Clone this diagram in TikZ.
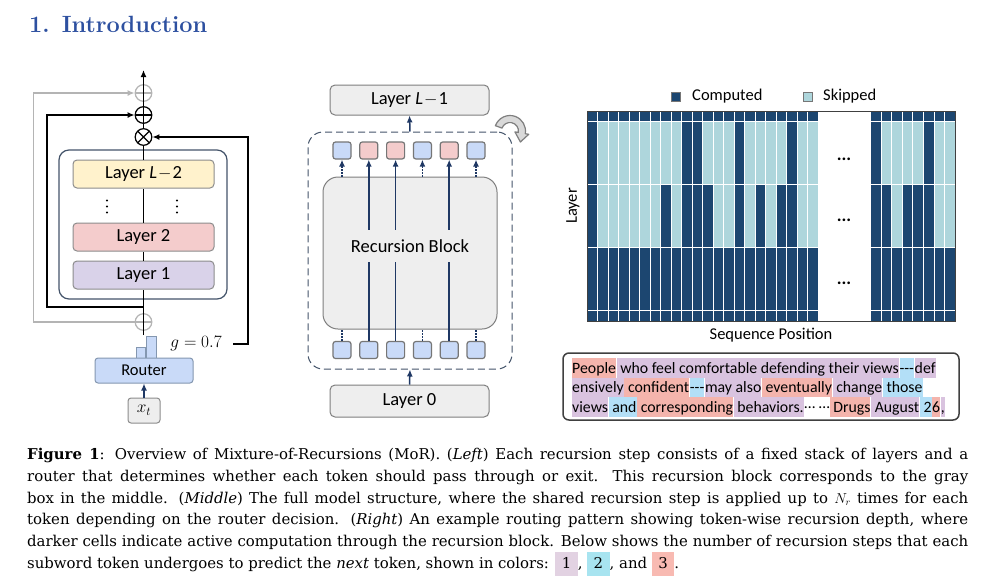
\documentclass[tikz,border=0pt]{standalone}
\usepackage{fontspec}
\newfontfamily\carlito{Carlito}
\newfontfamily\dvserif{DejaVu Serif}
\usetikzlibrary{arrows.meta}

\definecolor{outline}{HTML}{44546A}
\definecolor{boxgray}{HTML}{8C8C8C}
\definecolor{blockgray}{HTML}{EEEEEE}
\definecolor{yellowbox}{HTML}{FFF2CC}
\definecolor{pinkbox}{HTML}{F4CCCC}
\definecolor{purplebox}{HTML}{D9D2E9}
\definecolor{routerblue}{HTML}{C9DAF8}
\definecolor{routeredge}{HTML}{8497B0}
\definecolor{sqgray}{HTML}{767676}
\definecolor{navy}{HTML}{1F3864}
\definecolor{loopgray}{HTML}{B4B4B4}
\definecolor{computed}{HTML}{1C4670}
\definecolor{skipped}{HTML}{AED6DC}
\definecolor{headblue}{HTML}{2D50A0}
\definecolor{tokone}{HTML}{D9C3DF}
\definecolor{toktwo}{HTML}{B3DFF7}
\definecolor{tokthree}{HTML}{F4B4AC}
\definecolor{capone}{HTML}{E2D2E2}
\definecolor{captwo}{HTML}{A8E4F0}
\definecolor{capthree}{HTML}{F8BAB2}
\definecolor{arrowfill}{HTML}{D9D9D9}
\definecolor{arrowedge}{HTML}{7F7F7F}
\definecolor{textframe}{HTML}{404040}

\newcommand{\tok}[2]{{\setlength{\fboxsep}{0pt}\colorbox{#1}{\rule[-4.9pt]{0pt}{19.5pt}#2}}\hspace{0.7pt}}
\newcommand{\capbox}[2]{{\setlength{\fboxsep}{0pt}\colorbox{#1}{\rule[-7pt]{0pt}{24pt}\hspace{6.5pt}#2\hspace{6.5pt}}}}
\newcommand{\hy}{-\kern0pt-\kern0pt-}
\newcommand{\mdots}{\raisebox{3.5pt}{…}}

\begin{document}
\begin{tikzpicture}[x=1pt, y=-1pt, >={Latex[length=7pt,width=6pt]},
  every node/.style={font=\carlito\fontsize{18.5}{20}\selectfont},
  wire/.style={line width=1.5pt},
  layer/.style={draw=boxgray, line width=1pt, rounded corners=4pt, minimum width=141pt, minimum height=28pt, inner sep=0pt},
  grayblk/.style={draw=arrowedge, fill=blockgray, line width=1pt, rounded corners=5pt, minimum width=159pt, inner sep=0pt},
  sq/.style={draw=sqgray, line width=1.2pt, rounded corners=2.5pt, minimum width=18pt, minimum height=17pt, inner sep=0pt},
  oplus/.style={circle, draw=#1, line width=1.2pt, minimum size=16.6pt, inner sep=0pt,
    path picture={\draw[#1, line width=1.2pt] (path picture bounding box.north) -- (path picture bounding box.south)
      (path picture bounding box.west) -- (path picture bounding box.east);}},
  oplus/.default=black,
  otimes/.style={circle, draw, line width=1.2pt, minimum size=16.6pt, inner sep=0pt,
    path picture={\draw[line width=1.2pt] (path picture bounding box.north west) -- (path picture bounding box.south east)
      (path picture bounding box.north east) -- (path picture bounding box.south west);}},
  cell/.style={draw=white, line width=0.9pt},
  legsq/.style={draw=sqgray, line width=0.8pt, minimum size=9pt, inner sep=0pt},
  small/.style={font=\carlito\fontsize{16.5}{18}\selectfont},
  tokline/.style={anchor=base west, inner sep=0pt, font=\carlito\fontsize{15.8}{19.5}\selectfont},
  capline/.style={anchor=base west, inner sep=0pt, font=\dvserif\fontsize{14.9}{21.8}\selectfont}]

\path[use as bounding box, fill=white] (0,0) rectangle (992,587);

% heading
\node[anchor=base west, inner sep=0pt, text=headblue, font=\rmfamily\bfseries\fontsize{23.5}{28}\selectfont] (head) at (29,32.5) {1.\hspace{12pt}Introduction};

% left: one recursion step
\node[draw=outline, line width=1.2pt, rounded corners=10pt, minimum width=168pt, minimum height=149pt] (stack) at (143,224.5) {};
\node[layer, fill=yellowbox] (lL2) at (143.5,174) {Layer \textit{L}\kern1pt$-$\kern1pt2};
\node[layer, fill=pinkbox] (l2) at (143.5,237) {Layer 2};
\node[layer, fill=purplebox] (l1) at (143.5,275) {Layer 1};
\foreach \y in {200.5,206.5,212.5}
{
    \fill (107,\y) circle (1.2);
    \fill (177,\y) circle (1.2);
}
\node[oplus=loopgray] (gtop) at (143.5,93) {};
\node[oplus] (plus) at (143.5,115) {};
\node[otimes] (times) at (143.5,137) {};
\node[oplus=loopgray] (gbot) at (143.5,322) {};
\coordinate (split) at (143.5,307);
\coordinate (barstop) at (143.5,335);
\coordinate (out) at (143.5,70);
\draw[draw=routeredge, fill=routerblue, line width=1pt] (136,347) rectangle (145,358);
\draw[draw=routeredge, fill=routerblue, line width=1pt] (146,336) rectangle (156,358);
\node[draw=routeredge, fill=routerblue, line width=1pt, rounded corners=3pt, minimum width=98pt, minimum height=25pt, small] (router) at (144,370.5) {Router};
\node[draw=boxgray, fill=blockgray, line width=1pt, rounded corners=3pt, minimum width=32pt, minimum height=25pt, font=\fontsize{18}{20}\selectfont] (xt) at (144,410.5) {$x_t$};
\node[anchor=east, inner sep=0pt, font=\fontsize{17}{18}\selectfont] (gval) at (222,344) {$g = 0.7$};

\draw[wire, loopgray, ->] (gbot.west) -- ++(-101,0) |- (gtop.west);
\draw[wire] (barstop) -- (split) -- (l1.south);
\draw[wire] (l1.north) -- (l2.south);
\draw[wire] (l2.north) -- (lL2.south);
\draw[wire] (lL2.north) -- (times.south);
\draw[wire] (times.north) -- (plus.south);
\draw[wire, ->] (plus.north) -- (out);
\draw[wire, ->] (split) -- ++(-96.5,0) |- (plus.west);
\draw[wire, ->] ([xshift=11pt]gval.east) -- ++(15,0) |- (times.east);
\draw[wire, navy, ->] (xt.north) -- (router.south);

% middle: full model
\node[grayblk, minimum height=30pt] (lLm1) at (409.5,100) {Layer \textit{L}\kern1pt$-$\kern1pt1};
\node[grayblk, minimum height=32pt] (l0) at (409.5,401) {Layer 0};
\node[draw=outline, line width=1pt, dash pattern=on 7pt off 4pt, rounded corners=15pt, minimum width=204pt, minimum height=237pt] (loop) at (410,250.5) {};
\node[draw=arrowedge, fill=blockgray, line width=1pt, rounded corners=15pt, minimum width=174pt, minimum height=152pt] (rbox) at (410,253) {};
\node[minimum height=32pt, inner sep=0pt] (rbtext) at (410,246) {Recursion Block};
\foreach \col [count=\i] in {routerblue,pinkbox,pinkbox,routerblue,pinkbox,routerblue}
{
    \node[sq, fill=\col] (t\i) at (342+\i*26.8-26.8,150.5) {};
    \node[sq, fill=routerblue] (b\i) at (342+\i*26.8-26.8,350) {};
}
\foreach \i in {2,3,5}
{
    \draw[wire, navy] (b\i.north) -- (b\i.north |- rbtext.south);
    \draw[wire, navy, ->] (b\i.north |- rbtext.north) -- (t\i.south);
}
\foreach \i in {1,4,6}
{
    \draw[wire, navy, dash pattern=on 1.5pt off 1.5pt, ->] (t\i.south |- rbox.north) -- (t\i.south);
    \draw[wire, navy, dash pattern=on 1.5pt off 1.5pt] (b\i.north) -- (b\i.north |- rbox.south);
}
\draw[wire, navy, ->] (loop.north) -- (lLm1.south);
\draw[wire, navy, ->] (l0.north) -- (loop.south);
% curved arrow
\filldraw[fill=arrowfill, draw=arrowedge, line width=1.2pt, line join=round]
  ([shift={(-160:15.5)}]510,131) arc[start angle=-160, end angle=10, radius=15.5]
  -- ([shift={(10:19)}]510,131) -- (520.4,142) -- ([shift={(10:5)}]510,131)
  -- ([shift={(10:8.5)}]510,131) arc[start angle=10, end angle=-160, radius=8.5] -- cycle;

% right: routing pattern
\node[legsq, fill=computed] (legc) at (675.5,96.5) {};
\node[anchor=west, inner sep=0pt, small] (legctext) at (692,96.5) {Computed};
\node[legsq, fill=skipped] (legs) at (807.5,96.5) {};
\node[anchor=west, inner sep=0pt, small] (legstext) at (823,96.5) {Skipped};
\foreach \d [count=\c from 0] in {3,1,1,1,1,1,1,2,1,3,3,2,1,1,3,1,2,1,2,3,1,1,0,0,0,0,0,3,2,1,2,2,3,1,1}
{
    \ifnum\d>0
        \pgfmathsetmacro\xl{587+\c*10.514}
        \ifnum\d>2 \def\ca{computed}\else\def\ca{skipped}\fi
        \ifnum\d>1 \def\cb{computed}\else\def\cb{skipped}\fi
        \path[cell, fill=computed] (\xl,111) rectangle ++(10.514,10.5);
        \path[cell, fill=\ca] (\xl,121.5) rectangle ++(10.514,63);
        \path[cell, fill=\cb] (\xl,184.5) rectangle ++(10.514,63);
        \path[cell, fill=computed] (\xl,247.5) rectangle ++(10.514,63);
        \path[cell, fill=computed] (\xl,310.5) rectangle ++(10.514,10.5);
    \fi
}
\draw[textframe, line width=0.8pt] (587,111) rectangle (955,321);
\node[anchor=base, font=\carlito\bfseries\fontsize{18}{20}\selectfont] (gapA) at (844,160) {...};
\node[anchor=base, font=\carlito\bfseries\fontsize{18}{20}\selectfont] (gapB) at (844,221) {...};
\node[anchor=base, font=\carlito\bfseries\fontsize{18}{20}\selectfont] (gapC) at (844,284) {...};
\node[rotate=90, small] (ylab) at (573,206) {Layer};
\node[small] (xlab) at (771,335) {Sequence Position};

% token box
\node[draw=textframe, line width=1.5pt, rounded corners=6pt, minimum width=396pt, minimum height=67pt] (tbox) at (761,386.5) {};
\node[tokline] (tline1) at (572,373)
  {\tok{tokthree}{People}\tok{tokone}{\ who feel comfortable defending their views}\tok{toktwo}{\hy}\tok{tokone}{def}};
\node[tokline] (tline2) at (572,392.5)
  {\tok{tokone}{ensively}\tok{tokthree}{\ confident}\tok{toktwo}{\hy}\tok{tokone}{may also}\tok{tokthree}{\ eventually}\tok{tokone}{\ change}\tok{toktwo}{\ those}};
\node[tokline] (tline3) at (572,412)
  {\tok{tokone}{views}\tok{toktwo}{\ and}\tok{tokthree}{\ corresponding}\tok{tokone}{\ behaviors.}\mdots\ \mdots\tok{tokthree}{\ Drugs}\tok{tokone}{\ August}\tok{toktwo}{\ 2}\tok{tokthree}{6}\tok{tokone}{,}};

% caption
\node[capline] (cap1) at (27,459.5) {\makebox[941pt][s]{\textbf{Figure 1}: Overview of Mixture-of-Recursions (MoR). (\textit{Left}) Each recursion step consists of a fixed stack of layers and a}};
\node[capline] (cap2) at (27,481.3) {\makebox[941pt][s]{router that determines whether each token should pass through or exit. This recursion block corresponds to the gray}};
\node[capline] (cap3) at (27,503.1) {\makebox[941pt][s]{box in the middle. (\textit{Middle}) The full model structure, where the shared recursion step is applied up to $N_r$ times for each}};
\node[capline] (cap4) at (27,524.9) {\makebox[941pt][s]{token depending on the router decision. (\textit{Right}) An example routing pattern showing token-wise recursion depth, where}};
\node[capline] (cap5) at (27,546.7) {\makebox[941pt][s]{darker cells indicate active computation through the recursion block. Below shows the number of recursion steps that each}};
\node[capline] (cap6) at (27,568.5) {subword token undergoes to predict the \textit{next} token, shown in colors: \capbox{capone}{1}, \capbox{captwo}{2}, and \capbox{capthree}{3}.};

\end{tikzpicture}
\end{document}
